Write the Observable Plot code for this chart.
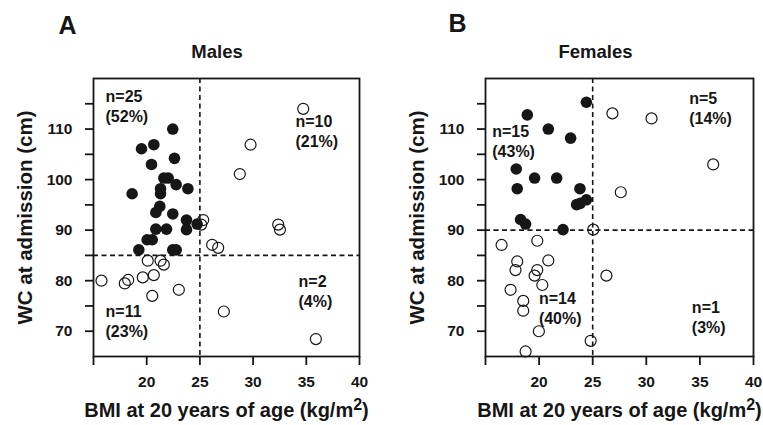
<!DOCTYPE html>
<html><head><meta charset="utf-8">
<script src="https://cdn.jsdelivr.net/npm/d3@7"></script>
<script src="https://cdn.jsdelivr.net/npm/@observablehq/plot@0.6"></script>
<style>
html,body{margin:0;padding:0;background:#fff;}
#wrap{display:flex;width:763px;height:425px;overflow:hidden;}
g[aria-label="x-axis label"] text{font-size:20px;}
g[aria-label="y-axis label"] text{font-size:20.5px;}
g[aria-label="x-axis tick"] path, g[aria-label="y-axis tick"] path{stroke-width:1.8px;}
</style></head>
<body><div id="wrap"></div>
<script>
// ---- tick values ----
const bmiTicks = [15, 20, 25, 30, 35, 40];
const wcTicks = [70, 75, 80, 85, 90, 95, 100, 105, 110, 115];
const bmiLabel = "BMI at 20 years of age (kg/m2)";
const wcLabel = "WC at admission (cm)";

// ---- Males: [BMI, WC] ----
const maleFilled = [
  [22.45,110.0],[19.51,106.1],[20.67,106.9],[22.61,104.2],[20.45,103.0],
  [21.61,100.3],[22.02,100.3],[22.77,99.0],[23.87,98.2],[18.63,97.2],
  [21.30,98.2],[21.30,97.2],[21.23,94.7],[20.86,93.5],[22.45,93.2],
  [23.74,92.0],[24.74,91.2],[23.74,90.1],[20.86,90.2],[21.86,90.2],
  [20.04,88.1],[20.52,88.1],[19.26,86.1],[22.45,86.1],[22.77,86.1]
];
const maleOpen = [
  [34.71,114.0],[29.76,106.9],[28.75,101.1],[32.36,91.1],[32.52,90.1],
  [25.31,92.0],[25.12,91.1],[26.15,87.1],[26.72,86.5],
  [27.25,73.9],[35.9,68.45],
  [15.75,80.0],[17.94,79.46],[18.26,80.14],[19.63,80.65],[20.67,81.1],
  [20.10,83.96],[21.30,83.96],[21.61,83.17],[20.52,77.0],[23.02,78.2]
];
// ---- Females: [BMI, WC] ----
const femaleFilled = [
  [24.41,115.3],[18.9,112.8],[20.86,110.0],[22.94,108.2],[17.87,102.1],
  [19.58,100.3],[21.64,100.3],[17.96,98.2],[23.81,98.2],[23.5,95.05],
  [23.84,95.3],[24.41,96.0],[18.27,92.1],[18.74,91.2],[22.23,90.1]
];
const femaleOpen = [
  [26.84,113.1],[30.49,112.1],[36.24,103.0],[27.62,97.5],[25.05,90.1],
  [26.28,81.0],
  [16.5,87.07],[19.83,87.9],[17.96,83.8],[17.8,82.1],[20.86,84.0],
  [19.83,82.1],[19.58,81.0],[20.3,79.15],[17.34,78.2],[18.52,76.0],
  [18.52,74.06],[19.98,70.0],[24.81,68.1],[18.74,66.0]
];
// ---- quadrant annotations: [BMI, WC, count, percent] ----
const maleNotes = [
  [16.13,116.3,"n=25","(52%)"],[33.98,111.4,"n=10","(21%)"],
  [34.27,79.7,"n=2","(4%)"],[16.13,73.75,"n=11","(23%)"]
];
const femaleNotes = [
  [15.63,109.4,"n=15","(43%)"],[34.0,116.0,"n=5","(14%)"],
  [19.98,76.4,"n=14","(40%)"],[34.25,74.7,"n=1","(3%)"]
];
const cutoffs = {male: {bmi: 25, wc: 85}, female: {bmi: 25, wc: 90}};

function panel({letter, title, filled, open, notes, cut, width, marginLeft, marginRight, titleDx, letterDx, letterDy}) {
  const svg = Plot.plot({
    width, height: 425,
    marginLeft, marginRight, marginTop: 78, marginBottom: 69,
    style: {fontFamily: "'Liberation Sans', Arial, sans-serif", fontWeight: "bold", fontSize: "15.5px", color: "#161616", background: "#fff", overflow: "visible"},
    x: {domain: [15, 40], ticks: bmiTicks, tickFormat: d => d === 15 ? "" : d, tickSize: 9, tickPadding: 10,
        label: bmiLabel, labelAnchor: "center", labelOffset: 60, labelArrow: "none"},
    y: {domain: [65, 120], ticks: wcTicks, tickFormat: d => d % 10 === 0 ? d : "", tickSize: 8, tickPadding: 13,
        label: wcLabel, labelAnchor: "center", labelOffset: 76, labelArrow: "none"},
    marks: [
      Plot.ruleX([cut.bmi], {stroke: "#161616", strokeWidth: 1.6, strokeDasharray: "5,3.5"}),
      Plot.ruleY([cut.wc], {stroke: "#161616", strokeWidth: 1.6, strokeDasharray: "5,3.5"}),
      Plot.dot(open, {x: d => d[0], y: d => d[1], r: 5.5, stroke: "#161616", strokeWidth: 1.2, fill: "none"}),
      Plot.dot(filled, {x: d => d[0], y: d => d[1], r: 5.8, fill: "#161616", stroke: "none"}),
      Plot.text(notes, {x: d => d[0], y: d => d[1], text: d => d[2], textAnchor: "start", fontSize: 16, fontWeight: "bold"}),
      Plot.text(notes, {x: d => d[0], y: d => d[1], text: d => d[3], textAnchor: "start", fontSize: 16, fontWeight: "bold", dy: 20}),
      Plot.text([title], {frameAnchor: "top", lineAnchor: "middle", text: d => d, dy: -26.9, dx: titleDx, fontSize: 18.5, fontWeight: "bold"}),
      Plot.text([letter], {frameAnchor: "top-left", lineAnchor: "middle", text: d => d, dx: letterDx, dy: letterDy, textAnchor: "start", fontSize: 25, fontWeight: "bold"}),
      Plot.frame({stroke: "#161616", strokeWidth: 1.8})
    ]
  });
  const lab = svg.querySelector('g[aria-label="x-axis label"] text');
  if (lab) {
    const ns = "http://www.w3.org/2000/svg";
    lab.textContent = "";
    const t1 = document.createElementNS(ns, "tspan"); t1.textContent = "BMI at 20 years of age (kg/m";
    const t2 = document.createElementNS(ns, "tspan"); t2.textContent = "2"; t2.setAttribute("dy", "-0.42em"); t2.setAttribute("font-size", "0.8em");
    const t3 = document.createElementNS(ns, "tspan"); t3.textContent = ")"; t3.setAttribute("dy", "0.34em");
    lab.append(t1, t2, t3);
  }
  return svg;
}

const wrap = document.getElementById("wrap");
wrap.append(panel({letter: "A", title: "Males", filled: maleFilled, open: maleOpen, notes: maleNotes, cut: cutoffs.male,
  width: 381, marginLeft: 93, marginRight: 22, titleDx: -9.5, letterDx: -35, letterDy: -53}));
wrap.append(panel({letter: "B", title: "Females", filled: femaleFilled, open: femaleOpen, notes: femaleNotes, cut: cutoffs.female,
  width: 382, marginLeft: 104, marginRight: 10, titleDx: -24, letterDx: -37, letterDy: -55}));
</script>
</body></html>
